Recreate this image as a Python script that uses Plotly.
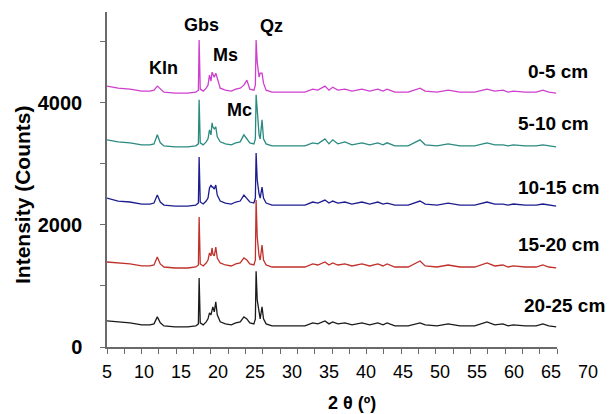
import plotly.graph_objects as go

# 2-theta positions (degrees)
two_theta = [5.0, 6.5, 8.1, 9.7, 10.8, 11.35, 11.8, 12.2, 12.7, 14.2,
             15.9, 17.0, 17.35, 17.45, 17.6, 18.0, 18.4, 18.65, 18.85, 19.05,
             19.2, 19.3, 19.5, 19.7, 19.9, 20.3, 21.0, 21.8, 22.4, 23.0,
             23.5, 23.9, 24.3, 24.85, 25.05, 25.15, 25.3, 25.55, 25.7, 25.95,
             26.15, 26.5, 27.3, 28.6, 30.4, 31.75, 32.8, 33.5, 34.45, 35.0,
             35.5, 36.2, 37.15, 38.1, 39.45, 40.5, 41.6, 42.3, 42.85, 43.9,
             45.7, 47.3, 48.0, 49.6, 51.1, 52.7, 54.7, 56.35, 57.4, 58.5,
             59.2, 59.9, 61.5, 63.0, 63.9, 64.7, 65.7]

depth_0_5 = [4275, 4242, 4226, 4193, 4193, 4209, 4275, 4226, 4176, 4160,
             4160, 4176, 4209, 5029, 4226, 4193, 4242, 4291, 4455, 4357,
             4504, 4472, 4422, 4488, 4390, 4242, 4209, 4193, 4226, 4242,
             4291, 4373, 4226, 4209, 4291, 5029, 4668, 4422, 4488, 4488,
             4324, 4209, 4176, 4176, 4176, 4176, 4226, 4209, 4275, 4209,
             4258, 4209, 4226, 4193, 4226, 4193, 4226, 4193, 4226, 4176,
             4176, 4242, 4193, 4176, 4209, 4176, 4176, 4226, 4193, 4209,
             4176, 4193, 4176, 4176, 4209, 4176, 4160]

depth_5_10 = [3395, 3362, 3346, 3313, 3313, 3329, 3477, 3346, 3296, 3280,
              3280, 3296, 3329, 4051, 3346, 3313, 3362, 3411, 3559, 3477,
              3674, 3608, 3575, 3608, 3444, 3362, 3329, 3313, 3346, 3362,
              3477, 3411, 3346, 3329, 3411, 4133, 3805, 3477, 3411, 3723,
              3411, 3329, 3296, 3296, 3296, 3296, 3346, 3329, 3411, 3329,
              3395, 3329, 3362, 3313, 3346, 3313, 3346, 3313, 3346, 3296,
              3296, 3395, 3313, 3296, 3329, 3296, 3296, 3346, 3313, 3313,
              3296, 3313, 3296, 3296, 3313, 3296, 3280]

depth_10_15 = [2441, 2392, 2376, 2343, 2343, 2359, 2490, 2376, 2326, 2310,
               2310, 2326, 2359, 3114, 2376, 2343, 2392, 2441, 2605, 2654,
               2622, 2622, 2589, 2654, 2490, 2392, 2359, 2343, 2376, 2392,
               2490, 2441, 2376, 2359, 2441, 3179, 2736, 2507, 2441, 2622,
               2441, 2359, 2326, 2326, 2326, 2326, 2376, 2359, 2408, 2359,
               2392, 2359, 2376, 2343, 2376, 2343, 2376, 2343, 2359, 2326,
               2326, 2392, 2343, 2326, 2359, 2326, 2326, 2376, 2343, 2343,
               2326, 2343, 2326, 2326, 2343, 2326, 2310]

depth_15_20 = [1393, 1377, 1361, 1328, 1328, 1344, 1475, 1361, 1311, 1295,
               1295, 1311, 1344, 2131, 1361, 1328, 1377, 1426, 1541, 1492,
               1623, 1525, 1492, 1639, 1459, 1377, 1344, 1328, 1361, 1377,
               1459, 1426, 1361, 1344, 1426, 2410, 1803, 1492, 1426, 1672,
               1426, 1344, 1311, 1311, 1311, 1311, 1361, 1344, 1393, 1344,
               1377, 1344, 1361, 1328, 1361, 1328, 1361, 1328, 1361, 1311,
               1311, 1410, 1328, 1311, 1344, 1311, 1311, 1377, 1328, 1344,
               1311, 1328, 1311, 1311, 1344, 1311, 1295]

depth_20_25 = [428, 412, 396, 363, 363, 379, 494, 396, 346, 330,
               330, 346, 379, 1130, 396, 363, 412, 461, 560, 527,
               609, 658, 576, 740, 527, 412, 379, 363, 396, 412,
               494, 461, 396, 379, 461, 1240, 773, 527, 461, 658,
               461, 379, 346, 346, 346, 346, 396, 379, 428, 379,
               412, 379, 396, 363, 396, 363, 396, 363, 396, 346,
               346, 396, 363, 346, 379, 346, 346, 412, 363, 379,
               346, 363, 346, 346, 379, 346, 330]

series_labels = ["0-5 cm", "5-10 cm", "10-15 cm", "15-20 cm", "20-25 cm"]
series_values = [depth_0_5, depth_5_10, depth_10_15, depth_15_20, depth_20_25]
series_colors = ["#CF3FCF", "#2A8A80", "#1C1C8F", "#C0312B", "#1A1A1A"]
label_pos_x = [65.95, 65.4, 66.08, 66.08, 66.76]
label_pos_y = [4507, 3655, 2606, 1672, 688]

x_tick_labels = [5, 10, 15, 20, 25, 30, 35, 40, 45, 50, 55, 60, 65, 70]
phase_names = ["Kln", "Gbs", "Ms", "Mc", "Qz"]
phase_x = [12.57, 17.75, 20.95, 22.9, 27.2]
phase_y = [4570, 5280, 4790, 3890, 5260]

fig = go.Figure()
for name, vals, col in zip(series_labels, series_values, series_colors):
    fig.add_trace(go.Scatter(x=two_theta, y=vals, mode="lines", name=name,
                             line=dict(color=col, width=1.3),
                             showlegend=False, xaxis="x", yaxis="y"))
# empty trace to activate the labelled axis
fig.add_trace(go.Scatter(x=[], y=[], xaxis="x2", yaxis="y", showlegend=False,
                         hoverinfo="skip"))

axis_col = "#6a6a6a"
data_end = 5 + 450 / 7.4

fig.update_layout(
    width=609, height=414,
    margin=dict(l=107, r=21, t=12, b=67),
    paper_bgcolor="white", plot_bgcolor="rgba(0,0,0,0)",
    font=dict(family="Liberation Sans, Arial, sans-serif", color="black"),
    xaxis=dict(domain=[0, 450 / 481], range=[5, data_end],
               showline=True, linecolor=axis_col, linewidth=1.5,
               ticks="outside", ticklen=5, tickcolor=axis_col, tickwidth=1.2,
               tick0=5, dtick=(data_end - 5) / 26,
               showticklabels=False, showgrid=False, zeroline=False),
    xaxis2=dict(domain=[0, 1], range=[5, 70], anchor="y",
                showline=False, ticks="", tickvals=x_tick_labels,
                tickfont=dict(size=18, color="black"),
                ticklabelstandoff=12,
                showgrid=False, zeroline=False),
    yaxis=dict(range=[0, 5490], showline=True, linecolor=axis_col, linewidth=1.5,
               ticks="outside", ticklen=5, tickcolor=axis_col, tickwidth=1.2,
               tick0=0, dtick=2000,
               minor=dict(dtick=1000, ticks="outside", ticklen=5,
                          tickcolor=axis_col, tickwidth=1.2),
               tickfont=dict(size=20, weight="bold", color="black"),
               ticklabelstandoff=14,
               showgrid=False, zeroline=False),
)

for t, x, y in zip(phase_names, phase_x, phase_y):
    fig.add_annotation(text=t, x=x, y=y, xref="x2", yref="y", showarrow=False,
                       xanchor="center", yanchor="middle",
                       font=dict(size=18, weight="bold", color="black"))

for t, x, y in zip(series_labels, label_pos_x, label_pos_y):
    fig.add_annotation(text=t, x=x, y=y, xref="x2", yref="y", showarrow=False,
                       xanchor="center", yanchor="middle",
                       font=dict(size=19, weight="bold", color="black"))

fig.add_annotation(text="Intensity (Counts)", textangle=-90,
                   x=(22 - 107) / 481, y=(347 - 195) / 335,
                   xref="paper", yref="paper", showarrow=False,
                   xanchor="center", yanchor="middle",
                   font=dict(size=21, weight="bold", color="black"))
fig.add_annotation(text="2 θ (º)",
                   x=(352 - 107) / 481, y=(347 - 403) / 335,
                   xref="paper", yref="paper", showarrow=False,
                   xanchor="center", yanchor="middle",
                   font=dict(size=18, weight="bold", color="black"))

fig.write_html("out.html")
